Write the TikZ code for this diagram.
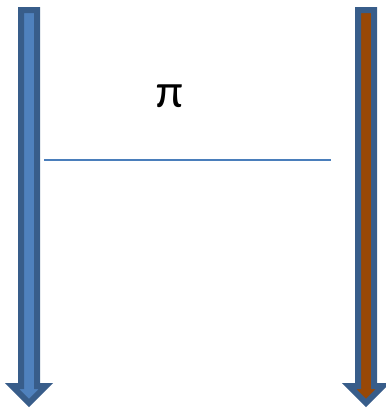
\documentclass[tikz,border=0pt]{standalone}
\usepackage{fontspec}
\newfontfamily\pifont{Carlito}
\usepackage{tikz}
\usetikzlibrary{positioning,calc}
\usepackage{xcolor}
\definecolor{edgeblue}{RGB}{56,93,138}
\definecolor{fillblue}{RGB}{79,129,189}
\definecolor{fillbrown}{RGB}{152,72,7}
\definecolor{lineblue}{RGB}{74,126,187}
\tikzset{
    blockarrow/.style={draw=edgeblue, line width=4.5pt, line join=miter},
    divider/.style={lineblue, line width=1.4pt}
}

\begin{document}
\begin{tikzpicture}[x=0.75pt, y=-0.75pt]
            \useasboundingbox (0,0) rectangle (386,408);
            % Left block arrow
            \begin{scope}[shift={(29,0)}]
                \draw[blockarrow, fill=fillblue] (-8,10) -- (8,10) -- (8,386) -- (17,386)
                    -- (0,403) -- (-17,386) -- (-8,386) -- cycle;
            \end{scope}
            
            % Right block arrow
            \begin{scope}[shift={(366,0)}]
                \draw[blockarrow, fill=fillbrown] (-8,10) -- (8,10) -- (8,386) -- (17,386)
                    -- (0,403) -- (-17,386) -- (-8,386) -- cycle;
            \end{scope}
            
            % Label and divider
            \node (pi) at (170,96) {\pifont\fontsize{36}{40}\selectfont π};
            \coordinate (lineL) at (44,160);
            \coordinate (lineR) at (331,160);
            \draw[divider] (lineL) -- (lineR);
        \end{tikzpicture}
\end{document}
